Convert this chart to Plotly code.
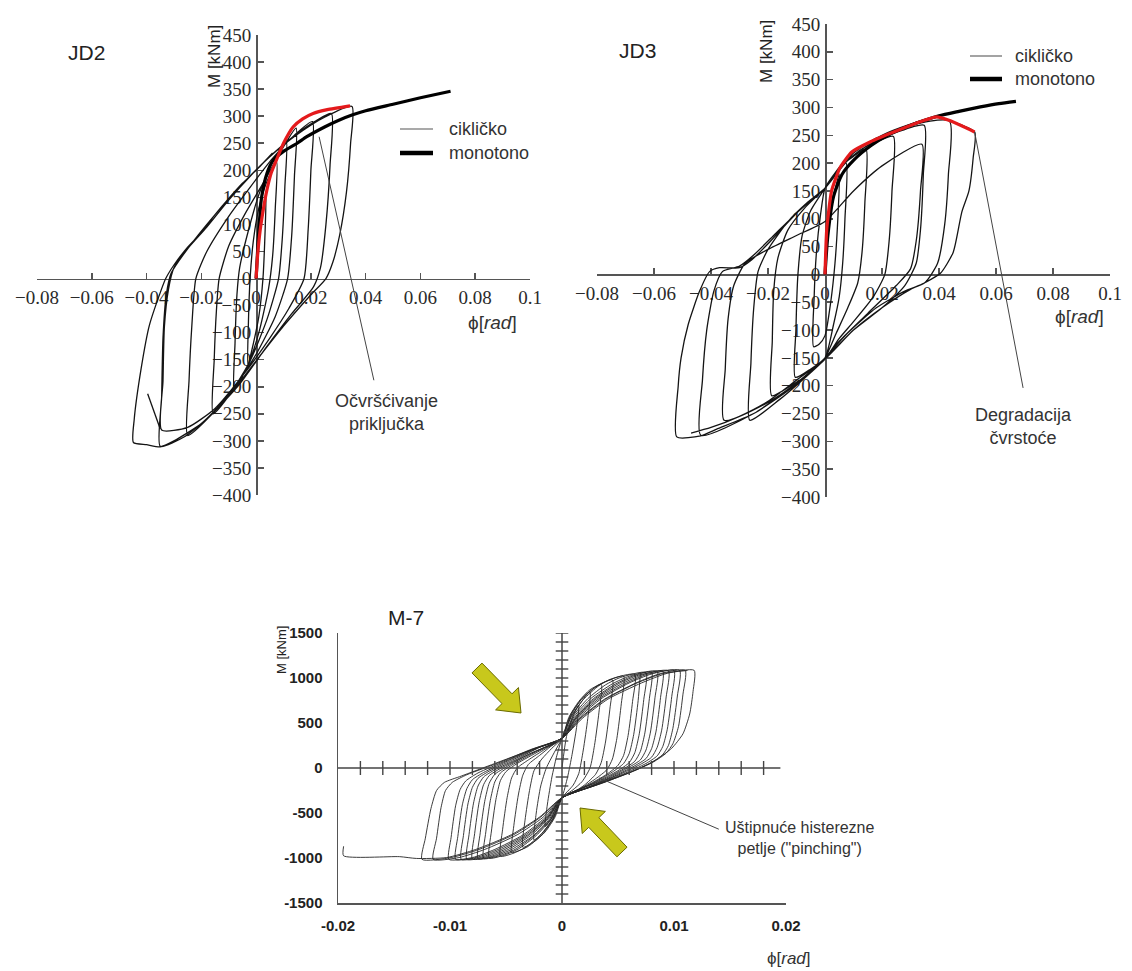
import math
import plotly.graph_objects as go

W, H = 1132, 971

# ---------------- data (phi [rad], M [kNm]) ----------------
JD_XTICKS = [-0.08, -0.06, -0.04, -0.02, 0, 0.02, 0.04, 0.06, 0.08, 0.1]
JD_XTICKTEXT = ["\u22120.08", "\u22120.06", "\u22120.04", "\u22120.02", "0", "0.02", "0.04", "0.06", "0.08", "0.1"]
JD_YTICKS = [450, 400, 350, 300, 250, 200, 150, 100, 50, 0, -50, -100, -150, -200, -250, -300, -350, -400]
JD_YTICKTEXT = ["450", "400", "350", "300", "250", "200", "150", "100", "50", "0", "\u221250", "\u2212100",
                "\u2212150", "\u2212200", "\u2212250", "\u2212300", "\u2212350", "\u2212400"]

M7_XTICKS = [-0.02, -0.01, 0, 0.01, 0.02]
M7_XTICKTEXT = ["-0.02", "-0.01", "0", "0.01", "0.02"]
M7_YTICKS = [1500, 1000, 500, 0, -500, -1000, -1500]
M7_YTICKTEXT = ["1500", "1000", "500", "0", "-500", "-1000", "-1500"]
M7_XMINOR = [-0.018, -0.016, -0.014, -0.012, -0.010, -0.008, -0.006, -0.004, -0.002,
             0.002, 0.004, 0.006, 0.008, 0.010, 0.012, 0.014, 0.016, 0.018]
M7_YMINOR = [-1400, -1300, -1200, -1100, -1000, -900, -800, -700, -600, -500, -400, -300, -200, -100,
             100, 200, 300, 400, 500, 600, 700, 800, 900, 1000, 1100, 1200, 1300, 1400, 1500]

JD2_MONO = [(0, 0), (0.001, 90), (0.002, 150), (0.004, 195), (0.006, 217), (0.01, 235), (0.015, 250),
            (0.0185, 262), (0.025, 280), (0.03, 292), (0.035, 302), (0.04, 310), (0.05, 322), (0.06, 334),
            (0.071, 346)]
JD2_RED = [(0, 0), (0.0005, 40), (0.0015, 90), (0.0027, 130), (0.004, 165), (0.0055, 195), (0.0075, 220),
           (0.01, 250), (0.0135, 280), (0.017, 295), (0.0208, 305), (0.026, 312), (0.0343, 319)]
JD2_CYCLIC = [
    (0, 0), (0.001, 75), (0.0025, 125), (0.0036, 155),
    (0.0033, 90), (0.0025, 0), (0.001, -70), (-0.001, -120), (-0.003, -160),
    (-0.0028, -80), (-0.0022, 0), (-0.001, 70), (0.001, 130), (0.004, 180), (0.0075, 215),
    (0.007, 130), (0.006, 40), (0.0045, -20), (0.001, -100), (-0.003, -160), (-0.008, -205),
    (-0.0077, -120), (-0.007, -30), (-0.006, 20), (-0.003, 85), (0.001, 155), (0.006, 215), (0.011, 255),
    (0.0105, 170), (0.0095, 70), (0.0082, 0), (0.004, -75), (-0.002, -150), (-0.009, -210), (-0.0157, -250),
    (-0.0153, -150), (-0.0145, -60), (-0.0135, 0), (-0.01, 60), (-0.004, 120), (0.003, 180), (0.009, 235),
    (0.0146, 278),
    (0.014, 190), (0.013, 80), (0.0115, 0), (0.007, -70), (0.0, -140), (-0.008, -200), (-0.016, -250),
    (-0.025, -290),
    (-0.0245, -190), (-0.0235, -90), (-0.022, 0), (-0.018, 50), (-0.01, 115), (-0.002, 170), (0.006, 222),
    (0.014, 265), (0.0206, 290),
    (0.02, 200), (0.019, 90), (0.0175, 0), (0.012, -55), (0.005, -110), (-0.005, -180), (-0.015, -240),
    (-0.025, -275), (-0.0345, -280),
    (-0.034, -190), (-0.0335, -90), (-0.032, -20), (-0.03, 20), (-0.025, 55), (-0.018, 95), (-0.01, 145),
    (-0.002, 190), (0.006, 230), (0.015, 268), (0.022, 292), (0.0275, 305),
    (0.027, 210), (0.0255, 100), (0.0235, 20), (0.021, -15), (0.013, -65), (0.004, -125), (-0.006, -195),
    (-0.016, -250), (-0.026, -292), (-0.035, -310),
    (-0.0345, -220), (-0.034, -110), (-0.0328, -30), (-0.031, 10), (-0.025, 55), (-0.015, 118),
    (-0.005, 175), (0.005, 225), (0.015, 266), (0.025, 298), (0.035, 318),
    (0.0345, 250), (0.033, 160), (0.0305, 80), (0.028, 30), (0.0255, 0), (0.02, -30), (0.01, -88),
    (0.0, -152), (-0.01, -217), (-0.02, -268), (-0.03, -300), (-0.035, -311), (-0.04, -307), (-0.0448, -303),
    (-0.0445, -260), (-0.042, -167), (-0.039, -87), (-0.035, -26), (-0.033, 0), (-0.03, 25), (-0.025, 58),
    (-0.02, 85), (-0.015, 118), (-0.01, 148), (-0.005, 176), (0.0, 200), (0.006, 232),
    (None, None), (-0.0396, -213), (-0.035, -278),
]

JD3_MONO = [(0, 0), (0.001, 70), (0.003, 140), (0.006, 180), (0.01, 205), (0.0163, 232), (0.022, 250),
            (0.029, 266), (0.035, 277), (0.04, 285), (0.047, 293), (0.0545, 301), (0.061, 307), (0.067, 311)]
JD3_RED = [(0, 0), (0.0006, 80), (0.0023, 150), (0.0053, 192), (0.0094, 220), (0.0158, 238), (0.0252, 258),
           (0.0344, 276), (0.039, 283), (0.044, 276), (0.0525, 256)]
JD3_CYCLIC = [
    (0, 0), (0.001, 70), (0.003, 140), (0.005, 180),
    (0.0045, 100), (0.0035, 20), (0.002, -50), (0, -110), (-0.002, -125), (-0.004, -130),
    (-0.0038, -40), (-0.003, 40), (-0.0015, 110), (0, 155), (0.004, 185), (0.0074, 200),
    (0.007, 100), (0.0062, 20), (0.005, -40), (0.003, -90), (0, -150), (-0.005, -170), (-0.0104, -185),
    (-0.0102, -100), (-0.0095, 0), (-0.008, 70), (-0.005, 115), (0, 155), (0.005, 192), (0.01, 212),
    (0.0144, 225),
    (0.014, 130), (0.013, 40), (0.0115, -15), (0.008, -60), (0.004, -105), (0, -150), (-0.006, -180),
    (-0.012, -200), (-0.0187, -218),
    (-0.0185, -120), (-0.018, -30), (-0.0165, 30), (-0.013, 80), (-0.007, 120), (0, 155), (0.006, 195),
    (0.012, 222), (0.018, 238), (0.024, 248),
    (0.0235, 150), (0.0225, 60), (0.021, 0), (0.017, -40), (0.01, -85), (0.005, -115), (0, -152),
    (-0.008, -190), (-0.016, -225), (-0.0264, -262),
    (-0.026, -160), (-0.025, -60), (-0.0235, 5), (-0.02, 45), (-0.013, 95), (-0.006, 130), (0, 155),
    (0.008, 205), (0.016, 235), (0.025, 255), (0.0348, 268),
    (0.0345, 180), (0.0335, 80), (0.032, 20), (0.028, -20), (0.02, -60), (0.01, -100), (0, -152),
    (-0.01, -195), (-0.02, -230), (-0.0354, -262),
    (-0.035, -170), (-0.034, -80), (-0.032, -20), (-0.028, 20), (-0.02, 45), (-0.01, 70), (0, 95),
    (0.01, 150), (0.02, 195), (0.034, 234),
    (0.0335, 150), (0.032, 60), (0.03, 10), (0.025, -20), (0.015, -70), (0.005, -120), (0, -150),
    (-0.01, -195), (-0.025, -250), (-0.0436, -289),
    (-0.043, -190), (-0.0415, -100), (-0.039, -30), (-0.036, 5), (-0.03, 15), (-0.025, 35), (-0.018, 70),
    (-0.009, 115), (0, 155), (0.008, 210), (0.018, 245), (0.03, 268), (0.0437, 275),
    (0.0433, 180), (0.042, 90), (0.0395, 20), (0.035, -15), (0.028, -30), (0.018, -60), (0.008, -105),
    (0, -150), (-0.012, -205), (-0.025, -250), (-0.038, -278), (-0.0436, -290), (-0.052, -292),
    (-0.0515, -200), (-0.0505, -150), (-0.048, -90), (-0.044, -30), (-0.0405, 5), (-0.037, 12),
    (-0.03, 12), (-0.026, 25), (-0.02, 55), (-0.01, 110), (0, 155), (0.01, 218), (0.02, 250), (0.03, 270),
    (0.039, 283), (0.044, 276), (0.0525, 256),
    (0.052, 210), (0.0505, 150), (0.048, 112), (0.045, 40), (0.0405, 2), (0.035, -15), (0.03, -27),
    (0.02, -60), (0.01, -100), (0, -152), (-0.01, -190), (-0.02, -228), (-0.03, -255), (-0.04, -275),
    (-0.047, -285),
]

M7_CYCLIC = [
    (0, 0), (0.0004, 350), (0.001, 580), (0.0015, 700),
    (0.0013, 450), (0.0009, 150), (0.0005, -100), (0, -330), (-0.0007, -520), (-0.0015, -650),
    (-0.0013, -400), (-0.0009, -100), (-0.0005, 120), (0, 330), (0.0008, 560), (0.0025, 850),
    (0.0023, 550), (0.0019, 200), (0.0015, -60), (0.001, -190), (0, -330), (-0.0009, -580), (-0.0018, -730),
    (-0.0025, -800),
    (-0.0023, -500), (-0.0019, -200), (-0.0014, 0), (-0.0007, 170), (0, 330), (0.0008, 600), (0.002, 800),
    (0.0035, 930),
    (0.0033, 620), (0.0029, 250), (0.0025, 0), (0.0018, -150), (0.0009, -250), (0, -330), (-0.0006, -540),
    (-0.0015, -710), (-0.0025, -820), (-0.0035, -880),
    (-0.0033, -580), (-0.0029, -250), (-0.0025, -30), (-0.0018, 100), (-0.0009, 220), (0, 330),
    (0.0006, 560), (0.0015, 740), (0.0025, 870), (0.0045, 980),
    (0.0043, 680), (0.0039, 300), (0.0035, 60), (0.003, -70), (0.002, -190), (0.001, -270), (0, -330),
    (-0.0007, -550), (-0.0017, -730), (-0.003, -870), (-0.0039, -920), (-0.0045, -940),
    (-0.0043, -640), (-0.0039, -300), (-0.0035, -80), (-0.003, 40), (-0.002, 140), (-0.001, 240), (0, 330),
    (0.0007, 560), (0.0017, 760), (0.003, 900), (0.0039, 960), (0.0055, 1020),
    (0.0053, 720), (0.0049, 330), (0.0045, 100), (0.004, -20), (0.003, -120), (0.0015, -240), (0, -330),
    (-0.0008, -560), (-0.0019, -740), (-0.0033, -885), (-0.0044, -950), (-0.0055, -980),
    (-0.0053, -680), (-0.0049, -330), (-0.0045, -110), (-0.004, 0), (-0.003, 90), (-0.0015, 210), (0, 330),
    (0.0008, 570), (0.0019, 760), (0.0033, 915), (0.0044, 990), (0.0065, 1040),
    (0.0063, 740), (0.0059, 360), (0.0055, 140), (0.005, 30), (0.004, -70), (0.002, -210), (0, -330),
    (-0.001, -570), (-0.0023, -750), (-0.0039, -900), (-0.0052, -970), (-0.0065, -1000),
    (-0.0063, -700), (-0.0059, -350), (-0.0055, -140), (-0.005, -40), (-0.004, 50), (-0.002, 190), (0, 330),
    (0.001, 580), (0.0023, 770), (0.0039, 925), (0.0052, 1005), (0.0075, 1060),
    (0.0073, 760), (0.0069, 380), (0.0065, 170), (0.006, 60), (0.005, -30), (0.003, -160), (0, -330),
    (-0.0011, -565), (-0.0026, -755), (-0.0045, -905), (-0.006, -980), (-0.0075, -1010),
    (-0.0073, -720), (-0.0069, -370), (-0.0065, -170), (-0.006, -70), (-0.005, 10), (-0.003, 150), (0, 330),
    (0.0011, 575), (0.0026, 775), (0.0045, 935), (0.006, 1020), (0.0085, 1075),
    (0.0083, 780), (0.0079, 400), (0.0075, 200), (0.007, 90), (0.006, 10), (0.004, -120), (0.002, -230),
    (0, -330), (-0.0013, -560), (-0.003, -750), (-0.0051, -905), (-0.0068, -988), (-0.0085, -1015),
    (-0.0083, -740), (-0.0079, -390), (-0.0075, -200), (-0.007, -100), (-0.006, -20), (-0.004, 100),
    (-0.002, 230), (0, 330), (0.0013, 570), (0.003, 775), (0.0051, 940), (0.0068, 1030), (0.0095, 1080),
    (0.0093, 790), (0.0089, 420), (0.0085, 230), (0.008, 120), (0.007, 40), (0.005, -80), (0.0025, -210),
    (0, -330), (-0.0014, -555), (-0.0033, -745), (-0.0057, -905), (-0.0076, -992), (-0.0095, -1015),
    (-0.0093, -760), (-0.0089, -410), (-0.0085, -230), (-0.008, -130), (-0.007, -50), (-0.005, 70),
    (-0.0025, 210), (0, 330), (0.0014, 565), (0.0033, 770), (0.0057, 940), (0.0076, 1040), (0.0105, 1085),
    (0.0103, 800), (0.0099, 440), (0.0095, 250), (0.009, 150), (0.008, 60), (0.006, -50), (0.003, -190),
    (0, -330), (-0.0019, -545), (-0.0043, -740), (-0.0074, -905), (-0.0099, -995), (-0.0125, -1015),
    (-0.0122, -780), (-0.0117, -450), (-0.0112, -250), (-0.0105, -160), (-0.009, -90), (-0.006, 50),
    (-0.003, 190), (0, 330), (0.0018, 550), (0.0041, 765), (0.0071, 945), (0.0094, 1052), (0.0118, 1085),
    (0.0117, 850), (0.0114, 600), (0.0108, 380), (0.0098, 220), (0.0085, 100), (0.007, 0), (0.004, -150),
    (0, -330), (-0.002, -545), (-0.0045, -740), (-0.0077, -905), (-0.0103, -995), (-0.013, -1005),
    (-0.0145, -985), (-0.0195, -975), (-0.0195, -870),
]
M7_CYCLIC_B = [
    (0.007, 1052), (0.0068, 750), (0.0064, 370), (0.006, 160), (0.0055, 50), (0.0045, -45), (0.0025, -185),
    (0, -330), (-0.001, -565), (-0.0025, -755), (-0.0042, -905), (-0.0056, -975), (-0.007, -1005),
    (-0.0068, -710), (-0.0064, -360), (-0.006, -155), (-0.0055, -55), (-0.0045, 30), (-0.0025, 170), (0, 330),
    (0.0012, 570), (0.0028, 770), (0.0048, 935), (0.0064, 1025), (0.008, 1068),
    (0.0078, 770), (0.0074, 390), (0.007, 185), (0.0065, 75), (0.0055, -10), (0.0035, -140), (0, -330),
    (-0.0012, -560), (-0.0028, -750), (-0.0048, -905), (-0.0064, -985), (-0.008, -1012),
    (-0.0078, -730), (-0.0074, -380), (-0.007, -185), (-0.0065, -85), (-0.0055, -5), (-0.003, 150), (0, 330),
    (0.0013, 565), (0.0031, 770), (0.0054, 940), (0.0072, 1035), (0.009, 1078),
    (0.0088, 785), (0.0084, 410), (0.008, 215), (0.0075, 105), (0.0065, 25), (0.0045, -100), (0.0022, -220),
    (0, -330), (-0.0013, -555), (-0.0031, -745), (-0.0054, -905), (-0.0072, -990), (-0.009, -1015),
    (-0.0088, -750), (-0.0084, -400), (-0.008, -215), (-0.0075, -115), (-0.0065, -35), (-0.0045, 85),
    (-0.0022, 220), (0, 330), (0.0015, 560), (0.0035, 770), (0.006, 945), (0.008, 1045), (0.010, 1082),
    (0.0098, 795), (0.0094, 430), (0.009, 240), (0.0085, 135), (0.0075, 50), (0.0055, -65), (0.0028, -200),
    (0, -330), (-0.0015, -550), (-0.0035, -745), (-0.006, -905), (-0.008, -995), (-0.0101, -1015),
    (-0.0099, -770), (-0.0095, -420), (-0.0091, -240), (-0.0086, -145), (-0.0075, -55), (-0.005, 80),
    (-0.0025, 215), (0, 330), (0.0016, 555), (0.0038, 765), (0.0066, 945), (0.0088, 1050), (0.011, 1085),
    (0.0108, 820), (0.0104, 460), (0.0099, 270), (0.0093, 165), (0.0082, 70), (0.0062, -45), (0.0032, -185),
    (0, -330), (-0.0017, -548), (-0.004, -742), (-0.0069, -905), (-0.0092, -995), (-0.0115, -1015),
    (-0.0112, -780), (-0.0108, -440), (-0.0104, -250), (-0.0098, -160), (-0.0085, -75), (-0.0055, 65),
    (-0.0028, 205), (0, 330), (0.0017, 555), (0.0039, 765), (0.0067, 945), (0.009, 1050), (0.0112, 1083),
]


def unzip(pairs):
    return [p[0] for p in pairs], [p[1] for p in pairs]


# ---------------- layout geometry (pixels of the 1132x971 page) ----------------
JD2_XPX, JD2_YPX = (37, 530), (35, 495)
JD3_XPX, JD3_YPX = (597, 1110), (24, 497)
M7_XPX, M7_YPX = (338, 786), (633, 903)
JD_XR, JD_YR = [-0.08, 0.1], [-400, 450]
M7_XR, M7_YR = [-0.02, 0.02], [-1500, 1500]


def px(x):
    return x / W


def py(y):
    return 1 - y / H


def dom(xpx, ypx):
    return [px(xpx[0]), px(xpx[1])], [py(ypx[1]), py(ypx[0])]


AX = "#555555"
SERIF = "Liberation Serif"
SANS = "Liberation Sans, Arial, sans-serif"

fig = go.Figure()


def jd_axes(xdom, ydom):
    xpos = ydom[0] + (0 - JD_YR[0]) / (JD_YR[1] - JD_YR[0]) * (ydom[1] - ydom[0])
    ypos = xdom[0] + (0 - JD_XR[0]) / (JD_XR[1] - JD_XR[0]) * (xdom[1] - xdom[0])
    common = dict(showline=True, linecolor=AX, linewidth=1.5, ticks="inside", ticklen=6, tickwidth=1.5,
                  tickcolor=AX, showgrid=False, zeroline=False, layer="below traces", fixedrange=True,
                  automargin=False, tickfont=dict(family=SERIF, size=19, color="#2a2a2a"))
    xa = dict(domain=xdom, range=JD_XR, anchor="free", position=xpos, tickmode="array",
              tickvals=JD_XTICKS, ticktext=JD_XTICKTEXT, ticklabelstandoff=1, **common)
    ya = dict(domain=ydom, range=JD_YR, anchor="free", position=ypos, tickmode="array",
              tickvals=JD_YTICKS, ticktext=JD_YTICKTEXT, ticklabelstandoff=1, **common)
    return xa, ya


jd2x, jd2y = dom(JD2_XPX, JD2_YPX)
jd3x, jd3y = dom(JD3_XPX, JD3_YPX)
m7x, m7y = dom(M7_XPX, M7_YPX)
xa1, ya1 = jd_axes(jd2x, jd2y)
xa2, ya2 = jd_axes(jd3x, jd3y)

CYC = dict(color="#141414", width=1.3, shape="spline", smoothing=0.6)
for pairs, xr, yr in [(JD2_CYCLIC, "x", "y"), (JD3_CYCLIC, "x2", "y2")]:
    xs, ys = unzip(pairs)
    fig.add_trace(go.Scatter(x=xs, y=ys, xaxis=xr, yaxis=yr, mode="lines", line=CYC,
                             hoverinfo="skip", showlegend=False, connectgaps=False))
for pairs, xr, yr in [(JD2_MONO, "x", "y"), (JD3_MONO, "x2", "y2")]:
    xs, ys = unzip(pairs)
    fig.add_trace(go.Scatter(x=xs, y=ys, xaxis=xr, yaxis=yr, mode="lines",
                             line=dict(color="#000000", width=3.2, shape="spline", smoothing=0.6),
                             hoverinfo="skip", showlegend=False))
for pairs, xr, yr in [(JD2_RED, "x", "y"), (JD3_RED, "x2", "y2")]:
    xs, ys = unzip(pairs)
    fig.add_trace(go.Scatter(x=xs, y=ys, xaxis=xr, yaxis=yr, mode="lines",
                             line=dict(color="#e41a1c", width=3.2, shape="spline", smoothing=0.5),
                             hoverinfo="skip", showlegend=False))

for pairs in (M7_CYCLIC, M7_CYCLIC_B):
    xs, ys = unzip(pairs)
    fig.add_trace(go.Scatter(x=xs, y=ys, xaxis="x3", yaxis="y3", mode="lines",
                             line=dict(color="#262626", width=0.9, shape="spline", smoothing=0.6),
                             hoverinfo="skip", showlegend=False))
# cross-axis ticks of M-7
fig.add_trace(go.Scatter(x=M7_XMINOR, y=[0] * len(M7_XMINOR), xaxis="x3", yaxis="y3", mode="markers",
                         marker=dict(symbol="line-ns", size=10, line=dict(width=1.4, color="#444444")),
                         hoverinfo="skip", showlegend=False))
fig.add_trace(go.Scatter(x=[0] * len(M7_YMINOR), y=M7_YMINOR, xaxis="x3", yaxis="y3", mode="markers",
                         marker=dict(symbol="line-ew", size=9, line=dict(width=1.4, color="#444444")),
                         hoverinfo="skip", showlegend=False))

m7_common = dict(showline=True, linecolor=AX, linewidth=1.5, ticks="", showgrid=False, zeroline=False,
                 fixedrange=True, automargin=False,
                 tickfont=dict(family="Liberation Sans Narrow, Liberation Sans, Arial", size=15,
                               color="#222222", weight="bold"))
xa3 = dict(domain=m7x, range=M7_XR, anchor="y3", tickmode="array", tickvals=M7_XTICKS,
           ticktext=M7_XTICKTEXT, ticklabelstandoff=8, **m7_common)
ya3 = dict(domain=m7y, range=M7_YR, anchor="x3", tickmode="array", tickvals=M7_YTICKS,
           ticktext=M7_YTICKTEXT, ticklabelstandoff=11, **m7_common)

shapes = [
    dict(type="line", xref="x3", yref="y3", x0=0, x1=0, y0=-1500, y1=1500, line=dict(color="#444444", width=1.5)),
    dict(type="line", xref="x3", yref="y3", x0=-0.02, x1=0.0195, y0=0, y1=0, line=dict(color="#444444", width=1.5)),
    # annotation pointer lines
    dict(type="line", xref="x", yref="y", x0=0.023, y0=262, x1=0.043, y1=-188, line=dict(color="#444444", width=1)),
    dict(type="line", xref="x2", yref="y2", x0=0.0525, y0=256, x1=0.0695, y1=-204, line=dict(color="#444444", width=1)),
    dict(type="line", xref="x3", yref="y3", x0=0.0033, y0=-110, x1=0.0140, y1=-680, line=dict(color="#444444", width=1)),
]

# manual legends
LEG = [((400, 433), 129, 153, 447), ((970, 1002), 56, 79, 1013)]
for (lx0, lx1), yc, ym, tx in LEG:
    shapes.append(dict(type="line", xref="paper", yref="paper", x0=px(lx0), x1=px(lx1), y0=py(yc), y1=py(yc),
                       line=dict(color="#8c8c8c", width=1.6)))
    shapes.append(dict(type="line", xref="paper", yref="paper", x0=px(lx0), x1=px(lx1), y0=py(ym), y1=py(ym),
                       line=dict(color="#000000", width=4.5)))


def arrow_path(tail, tip, body=14, headw=32, headl=20):
    dx, dy = tip[0] - tail[0], tip[1] - tail[1]
    L = math.hypot(dx, dy)
    ux, uy = dx / L, dy / L
    nx, ny = -uy, ux
    bx, by = tip[0] - ux * headl, tip[1] - uy * headl
    pts = [(tail[0] + nx * body / 2, tail[1] + ny * body / 2), (bx + nx * body / 2, by + ny * body / 2),
           (bx + nx * headw / 2, by + ny * headw / 2), tip, (bx - nx * headw / 2, by - ny * headw / 2),
           (bx - nx * body / 2, by - ny * body / 2), (tail[0] - nx * body / 2, tail[1] - ny * body / 2)]
    return "M " + " L ".join(f"{px(a):.5f},{py(b):.5f}" for a, b in pts) + " Z"


for tail, tip in [((477, 668), (521, 713)), ((622, 852), (580, 808))]:
    shapes.append(dict(type="path", xref="paper", yref="paper", path=arrow_path(tail, tip),
                       fillcolor="#c8c81c", line=dict(color="#6a6a00", width=1)))

ann = []


def add_text(x, y, text, size, rot=0, xanchor="center", family=SANS, color="#333333", ref=("paper", "paper")):
    ann.append(dict(x=x, y=y, xref=ref[0], yref=ref[1], text=text, showarrow=False, textangle=rot,
                    xanchor=xanchor, yanchor="middle", align="center",
                    font=dict(family=family, size=size, color=color)))


add_text(px(86), py(53), "JD2", 21, color="#222222")
add_text(px(637), py(51), "JD3", 21, color="#222222")
add_text(px(406), py(617), "M-7", 21, color="#222222")
add_text(px(215), py(57), "M [kNm]", 17, rot=-90, color="#222222")
add_text(px(767), py(52), "M [kNm]", 17, rot=-90, color="#222222")
add_text(px(281), py(650), "M [kNm]", 13, rot=-90, color="#222222")
add_text(px(492), py(322), "\u03d5[<i>rad</i>]", 19)
add_text(px(1079), py(316), "\u03d5[<i>rad</i>]", 19)
add_text(px(789), py(958), "\u03d5[<i>rad</i>]", 17)
add_text(px(447), py(129), "cikli\u010dko", 18, xanchor="left")
add_text(px(447), py(153), "monotono", 18, xanchor="left")
add_text(px(1013), py(56), "cikli\u010dko", 18, xanchor="left")
add_text(px(1013), py(79), "monotono", 18, xanchor="left")
add_text(0.0475, -248, "O\u010dvr\u0161\u0107ivanje<br>priklju\u010dka", 18, ref=("x", "y"))
add_text(0.0695, -273, "Degradacija<br>\u010dvrsto\u0107e", 18, ref=("x2", "y2"))
add_text(px(800), py(838), "U\u0161tipnu\u0107e histerezne<br>petlje (\"pinching\")", 16)

fig.update_layout(
    template="none",
    width=W, height=H, autosize=False,
    margin=dict(l=0, r=0, t=0, b=0, pad=0),
    paper_bgcolor="white", plot_bgcolor="rgba(0,0,0,0)",
    showlegend=False,
    xaxis=xa1, yaxis=ya1, xaxis2=xa2, yaxis2=ya2, xaxis3=xa3, yaxis3=ya3,
    shapes=shapes, annotations=ann,
)

fig.write_html("out.html", config={"displayModeBar": False, "staticPlot": True},
               post_script="document.body.style.margin='0';document.body.style.overflow='hidden';")
